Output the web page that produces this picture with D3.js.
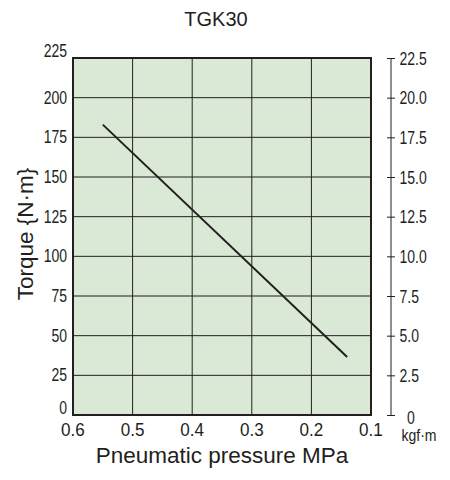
<!DOCTYPE html>
<html>
<head>
<meta charset="utf-8">
<script src="https://cdn.jsdelivr.net/npm/d3@7"></script>
<style>
  body { margin: 0; background: #fff; }
  text { fill: #231f20; }
</style>
</head>
<body>
<div id="root"></div>
<script>
// values
const pressure = [0.55, 0.14];   // MPa
const torque = [183, 36.5];      // N·m
const xTicks = [0.6, 0.5, 0.4, 0.3, 0.2, 0.1];
const yTicks = [0, 25, 50, 75, 100, 125, 150, 175, 200, 225];
const kgfTicks = [0, 2.5, 5.0, 7.5, 10.0, 12.5, 15.0, 17.5, 20.0, 22.5];

const width = 450, height = 480;
const plotLeft = 73, plotRight = 371, plotTop = 58, plotBottom = 415;
const sans = '"Liberation Sans", Arial, sans-serif';
const squeeze = 0.8; // tick labels are condensed in the original

const svg = d3.select('#root').append('svg')
  .attr('width', width)
  .attr('height', height);

const x = d3.scaleLinear().domain([0.6, 0.1]).range([plotLeft, plotRight]);
const y = d3.scaleLinear().domain([0, 225]).range([plotBottom, plotTop]);
const yKgf = d3.scaleLinear().domain([0, 22.5]).range([plotBottom, plotTop]);

// plot background
svg.append('rect')
  .attr('x', plotLeft).attr('y', plotTop)
  .attr('width', plotRight - plotLeft).attr('height', plotBottom - plotTop)
  .attr('fill', '#d9e9d6');

// grid
svg.append('g')
  .selectAll('line')
  .data(yTicks.slice(1, -1))
  .join('line')
  .attr('x1', plotLeft).attr('x2', plotRight)
  .attr('y1', d => y(d)).attr('y2', d => y(d))
  .attr('stroke', '#231f20').attr('stroke-width', 1);

svg.append('g')
  .selectAll('line')
  .data(xTicks.slice(1, -1))
  .join('line')
  .attr('x1', d => x(d)).attr('x2', d => x(d))
  .attr('y1', plotTop).attr('y2', plotBottom)
  .attr('stroke', '#231f20').attr('stroke-width', 1);

// border
svg.append('rect')
  .attr('x', plotLeft).attr('y', plotTop)
  .attr('width', plotRight - plotLeft).attr('height', plotBottom - plotTop)
  .attr('fill', 'none')
  .attr('stroke', '#231f20').attr('stroke-width', 2);

// torque line
const line = d3.line()
  .x(d => x(d[0]))
  .y(d => y(d[1]));

svg.append('path')
  .datum(d3.zip(pressure, torque))
  .attr('d', line)
  .attr('fill', 'none')
  .attr('stroke', '#231f20')
  .attr('stroke-width', 2);

// left axis labels
svg.append('g')
  .selectAll('text')
  .data(yTicks)
  .join('text')
  .attr('transform', d => {
    let ty = y(d) + 6;
    if (d === 0) ty = y(d) - 1;
    if (d === 225) ty = y(d) - 1;
    return `translate(${plotLeft - 6},${ty}) scale(${squeeze},1)`;
  })
  .attr('text-anchor', 'end')
  .attr('font-family', sans)
  .attr('font-size', 17.5)
  .text(d => d);

// bottom axis labels
svg.append('g')
  .selectAll('text')
  .data(xTicks)
  .join('text')
  .attr('transform', d => `translate(${x(d)},${plotBottom + 21}) scale(0.95,1)`)
  .attr('text-anchor', 'middle')
  .attr('font-family', sans)
  .attr('font-size', 18)
  .text(d => d3.format('.1f')(d));

// right axis (kgf·m)
const rightAxis = svg.append('g')
  .attr('transform', 'translate(391,0)')
  .call(d3.axisRight(yKgf)
    .tickValues(kgfTicks)
    .tickSize(4)
    .tickFormat(d => d === 0 ? '0' : d3.format('.1f')(d)));
rightAxis.select('.domain')
  .attr('d', `M0,${plotTop}V${plotBottom}`)
  .attr('stroke', '#231f20');
rightAxis.selectAll('.tick line')
  .attr('x1', -4).attr('x2', 4)
  .attr('stroke', '#231f20');
rightAxis.selectAll('.tick text')
  .attr('x', null)
  .attr('dy', null)
  .attr('transform', `translate(8.5,6) scale(${squeeze},1)`)
  .attr('font-family', sans)
  .attr('font-size', 17.5)
  .attr('fill', '#231f20');
rightAxis.selectAll('.tick')
  .filter(d => d === 0)
  .select('text')
  .attr('transform', `translate(16,8) scale(${squeeze},1)`);

svg.append('text')
  .attr('transform', `translate(419,441) scale(0.85,1)`)
  .attr('text-anchor', 'middle')
  .attr('font-family', sans)
  .attr('font-size', 16.5)
  .text('kgf·m');

// titles
svg.append('text')
  .attr('x', 216).attr('y', 26)
  .attr('text-anchor', 'middle')
  .attr('font-family', sans)
  .attr('font-size', 20)
  .text('TGK30');

svg.append('text')
  .attr('x', 222).attr('y', 463)
  .attr('text-anchor', 'middle')
  .attr('font-family', sans)
  .attr('font-size', 22.5)
  .text('Pneumatic pressure MPa');

svg.append('text')
  .attr('transform', 'translate(33,234) rotate(-90)')
  .attr('text-anchor', 'middle')
  .attr('font-family', sans)
  .attr('font-size', 22.5)
  .text('Torque {N·m}');
</script>
</body>
</html>
